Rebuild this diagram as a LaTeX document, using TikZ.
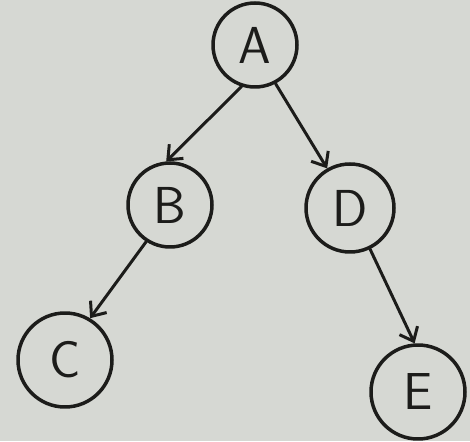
\documentclass[tikz,border=0pt]{standalone}
\usepackage{tikz}
\usetikzlibrary{arrows.meta}
\usepackage{xcolor}
\definecolor{papergray}{RGB}{214,216,211}
\definecolor{inkblack}{RGB}{28,28,26}
\tikzset{treenode/.style={circle, draw=inkblack, line width=3.5pt, inner sep=0pt, text=inkblack, font=\fontsize{52}{52}\selectfont\sffamily},
treeedge/.style={draw=inkblack, line width=3pt, -{Straight Barb[length=12pt, width=20pt, line width=3pt]}}}

\begin{document}
\begin{tikzpicture}[line join=round, line cap=round]
                % Background
                \fill[papergray] (0pt, 0pt) rectangle (470pt, 441pt);
                \useasboundingbox (0pt, 0pt) rectangle (470pt, 441pt);

                % Nodes
                \node[treenode, minimum size=84pt] (A) at (255pt, 396pt) {A};
                \node[treenode, minimum size=84pt] (B) at (170pt, 236pt) {B};
                \node[treenode, minimum size=88pt] (D) at (350pt, 233pt) {D};
                \node[treenode, minimum size=94pt] (C) at (65pt, 81pt) {C};
                \node[treenode, minimum size=94pt] (E) at (418pt, 49pt) {E};

                % Edges
                \draw[treeedge] (A.252) -- (B.95);
                \draw[treeedge] (A.298) -- (D.120);
                \draw[treeedge] (B.237) -- (C.59);
                \draw[treeedge] (D.296) -- (E.94);
            \end{tikzpicture}
\end{document}
